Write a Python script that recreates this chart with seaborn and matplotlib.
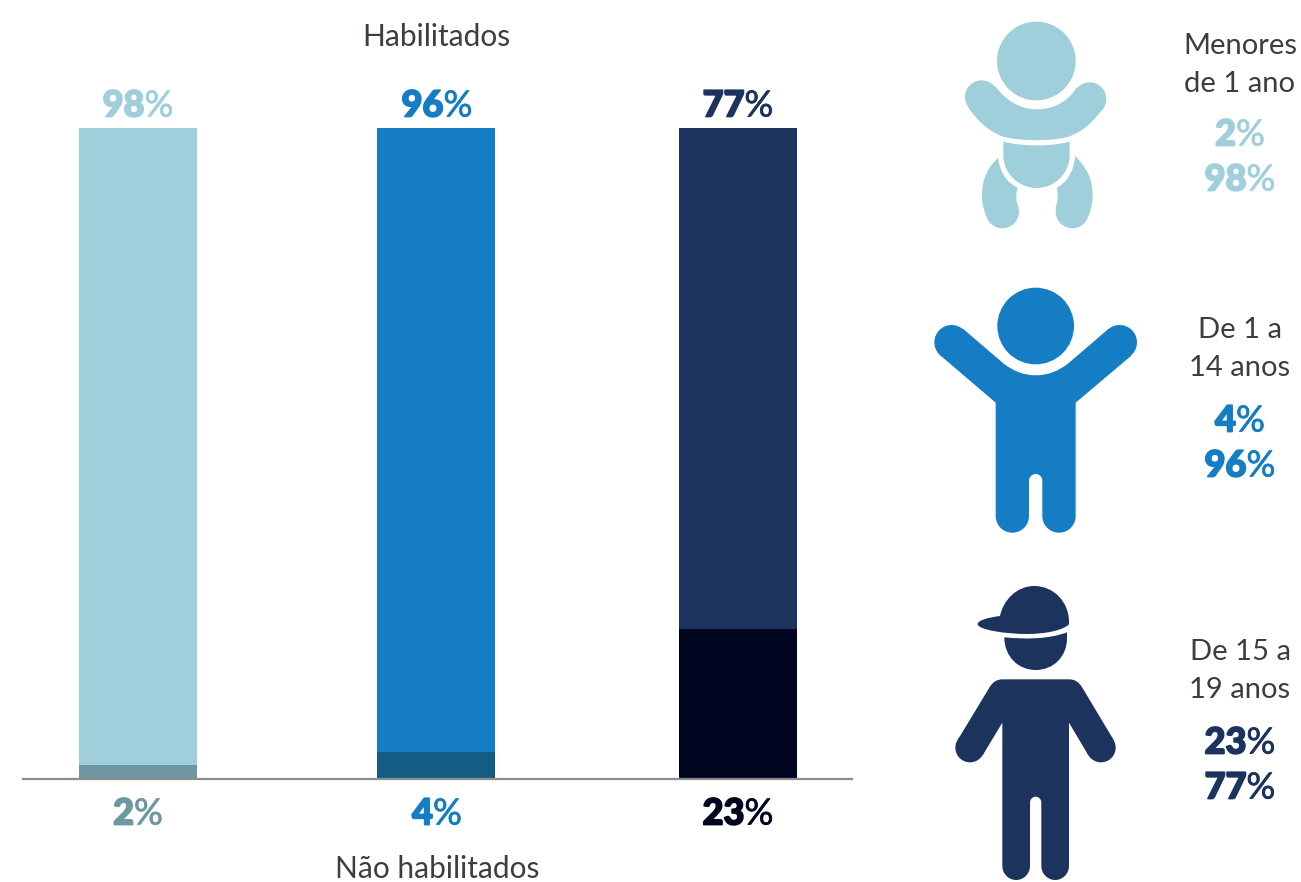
import matplotlib
matplotlib.use("Agg")
import matplotlib.pyplot as plt
import matplotlib.patheffects as pe
from matplotlib.patches import Circle, PathPatch
from matplotlib.path import Path
import pandas as pd
import seaborn as sns

# Data
age_groups = ["Menores de 1 ano", "De 1 a 14 anos", "De 15 a 19 anos"]
age_titles = [("Menores", "de 1 ano"), ("De 1 a", "14 anos"), ("De 15 a", "19 anos")]
habilitados = [98, 96, 77]
nao_habilitados = [2, 4, 23]

# Colours
main_colors = ["#A0CFDC", "#157DC3", "#1B335D"]
dark_colors = ["#6F97A2", "#155C85", "#00051F"]
text_color = "#3A3E42"
FONT = "Lato"

W, H = 1301, 882
sns.set_theme(style="white")
plt.rcParams["font.family"] = [FONT, "DejaVu Sans"]

fig = plt.figure(figsize=(W / 100, H / 100), dpi=100, facecolor="white")

# Overlay in image pixels for text and the pictograms
canvas = fig.add_axes([0, 0, 1, 1])
canvas.set_xlim(0, W)
canvas.set_ylim(H, 0)
canvas.axis("off")

# Bar axes: baseline at y=778 px, 100% at y=128 px, bars 300 px apart
ax = fig.add_axes([23 / W, 1 - 778 / H, (852 - 23) / W, 650 / H])
ax.patch.set_alpha(0)
frame = pd.DataFrame({
    "grupo": age_groups,
    "total": [a + b for a, b in zip(habilitados, nao_habilitados)],
    "nao": nao_habilitados,
})
sns.barplot(data=frame, x="grupo", y="total", hue="grupo", order=age_groups,
            palette=main_colors, dodge=False, width=118 / 300, saturation=1,
            linewidth=0, legend=False, ax=ax)
sns.barplot(data=frame, x="grupo", y="nao", hue="grupo", order=age_groups,
            palette=dark_colors, dodge=False, width=118 / 300, saturation=1,
            linewidth=0, legend=False, ax=ax)
ax.set_xlim((23 - 138) / 300, (852 - 138) / 300)
ax.set_ylim(0, 100)
ax.set_xlabel("")
ax.set_ylabel("")
ax.set_xticks([])
ax.set_yticks([])
for side in ("top", "left", "right"):
    ax.spines[side].set_visible(False)
ax.spines["bottom"].set_color("#8A8C8E")
ax.spines["bottom"].set_linewidth(1.6)
ax.spines["bottom"].set_position(("outward", 0.8))

# The middle column sits slightly left of the even spacing
for patch in ax.patches:
    if abs(patch.get_x() + patch.get_width() / 2 - 1) < 0.01:
        patch.set_x(patch.get_x() - 2 / 300)

renderer = fig.canvas.get_renderer()


def percent_label(x, y, value, color, size=26):
    """Centred percentage with heavy digits and a lighter percent sign."""
    digits = canvas.text(x, y, str(value), color=color, fontsize=size,
                         fontweight="black", ha="left", va="center_baseline")
    digits.set_path_effects([pe.withStroke(linewidth=1.3, foreground=color)])
    sign = canvas.text(x, y, "%", color=color, fontsize=size,
                       fontweight="regular", ha="left", va="center_baseline")
    sign.set_path_effects([pe.withStroke(linewidth=0.5, foreground=color)])
    w1 = digits.get_window_extent(renderer).width
    w2 = sign.get_window_extent(renderer).width
    start = x - (w1 + w2) / 2
    digits.set_x(start)
    sign.set_x(start + w1)


def plain_label(x, y, text, size=21):
    canvas.text(x, y, text, color=text_color, fontsize=size, fontweight="regular",
                ha="center", va="center_baseline")


plain_label(436.5, 34, "Habilitados", size=21.5)
plain_label(437, 866, "Não habilitados", size=21.5)

top_x = [138, 437, 738]
for x, hab, nao, main, dark in zip(top_x, habilitados, nao_habilitados, main_colors, dark_colors):
    percent_label(x, 103, hab, main)
    percent_label(x, 811, nao, main if main == main_colors[1] else dark)

side_rows = [(43, 81, 132, 177), (327, 366, 418, 463), (650, 688, 740, 785)]
for (t1, t2, p1, p2), title, hab, nao, main in zip(side_rows, age_titles, habilitados,
                                                   nao_habilitados, main_colors):
    plain_label(1240, t1, title[0])
    plain_label(1240, t2, title[1])
    percent_label(1240, p1, nao, main)
    percent_label(1240, p2, hab, main)


# Pictograms: outlines are given at 3x scale relative to an origin
def shape(origin, color, segments):
    ox, oy = origin
    verts, codes = [], []
    code_map = {"M": Path.MOVETO, "L": Path.LINETO, "C": Path.CURVE4}
    for op, *pts in segments:
        for p in pts:
            verts.append((ox + p[0] / 3, oy + p[1] / 3))
            codes.append(code_map[op])
    verts.append(verts[0])
    codes.append(Path.CLOSEPOLY)
    canvas.add_patch(PathPatch(Path(verts, codes), facecolor=color, edgecolor="none"))


def dot(origin, color, cx, cy, r):
    canvas.add_patch(Circle((origin[0] + cx / 3, origin[1] + cy / 3), r / 3,
                            facecolor=color, edgecolor="none"))


# Baby
o = (920, 0)
c = main_colors[0]
dot(o, c, 349, 183, 118)
dot(o, c, 185, 291, 50)
dot(o, c, 509, 297, 50)
shape(o, c, [("M", (226, 258)),
             ("C", (255, 300), (300, 328), (350, 328)),
             ("C", (400, 328), (445, 305), (470, 262)),
             ("L", (552, 322)),
             ("C", (520, 365), (490, 395), (445, 410)),
             ("C", (400, 424), (300, 424), (250, 410)),
             ("C", (205, 395), (170, 360), (143, 320))])
shape(o, c, [("M", (250, 425)),
             ("C", (310, 440), (390, 440), (449, 425)),
             ("L", (449, 465)),
             ("C", (449, 520), (405, 564), (350, 564)),
             ("C", (295, 564), (250, 520), (250, 465))])
shape(o, c, [("M", (235, 473)),
             ("C", (205, 500), (186, 535), (186, 585)),
             ("C", (186, 605), (190, 625), (197, 645)),
             ("L", (296, 625)),
             ("C", (288, 605), (286, 585), (293, 563)),
             ("C", (260, 548), (238, 515), (235, 473))])
dot(o, c, 247, 635, 50)
shape(o, c, [("M", (465, 468)),
             ("C", (498, 500), (518, 535), (518, 585)),
             ("C", (518, 605), (514, 625), (507, 645)),
             ("L", (406, 625)),
             ("C", (414, 605), (416, 585), (410, 563)),
             ("C", (440, 548), (462, 515), (465, 468))])
dot(o, c, 457, 635, 50)

# Child with raised arms
o = (920, 280)
c = main_colors[1]
dot(o, c, 347, 138, 115)
dot(o, c, 95, 187, 52)
dot(o, c, 599, 187, 52)
shape(o, c, [("M", (62, 227)),
             ("L", (130, 147)),
             ("L", (250, 250)),
             ("C", (310, 298), (385, 298), (445, 250)),
             ("L", (565, 147)),
             ("L", (634, 227)),
             ("L", (467, 368)),
             ("L", (467, 708)),
             ("C", (467, 736), (445, 758), (417, 758)),
             ("C", (389, 758), (367, 736), (367, 708)),
             ("L", (367, 602)),
             ("C", (367, 591), (358, 582), (347, 582)),
             ("C", (336, 582), (327, 591), (327, 602)),
             ("L", (327, 708)),
             ("C", (327, 736), (305, 758), (277, 758)),
             ("C", (249, 758), (227, 736), (227, 708)),
             ("L", (227, 368))])

# Teenager with cap
o = (920, 580)
c = main_colors[2]
shape(o, c, [("M", (240, 108)),
             ("C", (200, 113), (173, 122), (173, 132)),
             ("C", (173, 150), (260, 162), (320, 162)),
             ("C", (380, 162), (430, 150), (447, 133)),
             ("C", (450, 65), (400, 18), (343, 18)),
             ("C", (290, 18), (250, 60), (240, 108))])
shape(o, c, [("M", (253, 172)),
             ("C", (315, 178), (385, 178), (441, 157)),
             ("L", (441, 175)),
             ("C", (441, 230), (400, 270), (347, 270)),
             ("C", (295, 270), (253, 230), (253, 172))])
dot(o, c, 150, 503, 44)
dot(o, c, 543, 503, 44)
shape(o, c, [("M", (113, 480)),
             ("L", (208, 323)),
             ("C", (218, 306), (230, 298), (248, 298)),
             ("L", (447, 298)),
             ("C", (465, 298), (477, 306), (487, 323)),
             ("L", (581, 480)),
             ("L", (505, 526)),
             ("L", (447, 428)),
             ("L", (447, 858)),
             ("C", (447, 881), (428, 900), (405.5, 900)),
             ("C", (383, 900), (364, 881), (364, 858)),
             ("L", (364, 667)),
             ("C", (364, 658), (356, 650), (347, 650)),
             ("C", (338, 650), (330, 658), (330, 667)),
             ("L", (330, 858)),
             ("C", (330, 881), (311, 900), (288.5, 900)),
             ("C", (266, 900), (247, 881), (247, 858)),
             ("L", (247, 428)),
             ("L", (188, 526))])

fig.savefig("out.png", dpi=100, facecolor="white")
